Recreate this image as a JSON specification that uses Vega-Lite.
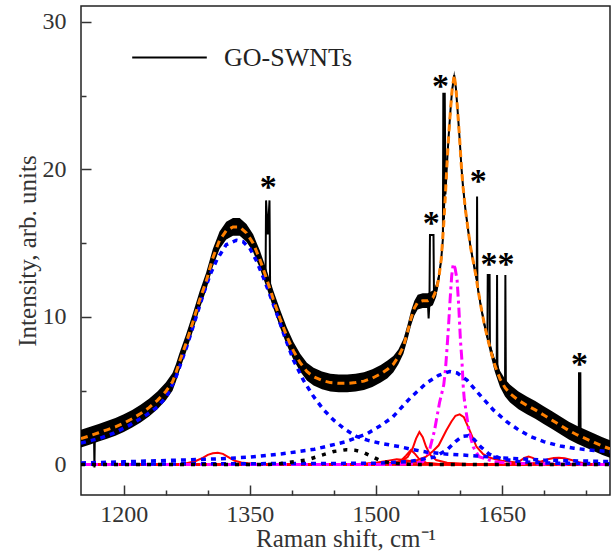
{
  "$schema": "https://vega.github.io/schema/vega-lite/v6.json",
  "width": 529,
  "height": 489,
  "autosize": {"type": "none"},
  "padding": {"left": 81, "top": 6, "right": 1, "bottom": 64},
  "background": "white",
  "config": {
    "font": "Liberation Serif",
    "view": {"stroke": "#222", "strokeWidth": 1.5},
    "axis": {"labelFont": "Liberation Serif", "titleFont": "Liberation Serif"},
    "style": {"guide-label": {"font": "Liberation Serif"}, "guide-title": {"font": "Liberation Serif"}}
  },
  "datasets": {
    "smooth": [
      {"x":1149,"m":1.75,"lo":1.15,"hi":2.35},{"x":1160,"m":1.95,"lo":1.35,"hi":2.55},{"x":1170,"m":2.15,"lo":1.55,"hi":2.75},
      {"x":1180,"m":2.35,"lo":1.75,"hi":2.95},{"x":1190,"m":2.55,"lo":1.95,"hi":3.15},{"x":1200,"m":2.8,"lo":2.2,"hi":3.4},
      {"x":1210,"m":3.1,"lo":2.5,"hi":3.7},{"x":1220,"m":3.45,"lo":2.85,"hi":4.05},{"x":1230,"m":3.85,"lo":3.25,"hi":4.45},
      {"x":1240,"m":4.35,"lo":3.75,"hi":4.95},{"x":1250,"m":4.95,"lo":4.35,"hi":5.55},{"x":1258,"m":5.6,"lo":5.0,"hi":6.2},
      {"x":1262,"m":6.2,"lo":5.6,"hi":6.8},
      {"x":1266,"m":6.9,"lo":6.3,"hi":7.5},{"x":1274,"m":8.2,"lo":7.6,"hi":8.8},{"x":1282,"m":9.6,"lo":9.0,"hi":10.2},
      {"x":1290,"m":11.1,"lo":10.5,"hi":11.7},{"x":1298,"m":12.4,"lo":11.8,"hi":13.0},{"x":1306,"m":14.0,"lo":13.4,"hi":14.6},
      {"x":1314,"m":15.2,"lo":14.6,"hi":15.8},{"x":1322,"m":15.85,"lo":15.25,"hi":16.45},{"x":1330,"m":16.1,"lo":15.5,"hi":16.7},
      {"x":1338,"m":16.1,"lo":15.5,"hi":16.7},{"x":1346,"m":15.7,"lo":15.1,"hi":16.3},{"x":1354,"m":15.0,"lo":14.4,"hi":15.6},
      {"x":1362,"m":13.9,"lo":13.3,"hi":14.5},{"x":1370,"m":12.6,"lo":12.0,"hi":13.2},{"x":1378,"m":11.2,"lo":10.6,"hi":11.8},
      {"x":1386,"m":9.9,"lo":9.3,"hi":10.5},{"x":1394,"m":8.7,"lo":8.1,"hi":9.3},{"x":1402,"m":7.7,"lo":7.1,"hi":8.3},
      {"x":1410,"m":6.9,"lo":6.3,"hi":7.5},{"x":1418,"m":6.3,"lo":5.7,"hi":6.9},{"x":1426,"m":5.95,"lo":5.35,"hi":6.55},
      {"x":1436,"m":5.7,"lo":5.1,"hi":6.3},{"x":1446,"m":5.55,"lo":4.95,"hi":6.15},{"x":1456,"m":5.5,"lo":4.9,"hi":6.1},
      {"x":1466,"m":5.5,"lo":4.9,"hi":6.1},{"x":1476,"m":5.55,"lo":4.95,"hi":6.15},{"x":1486,"m":5.65,"lo":5.05,"hi":6.25},
      {"x":1496,"m":5.85,"lo":5.25,"hi":6.45},{"x":1506,"m":6.15,"lo":5.55,"hi":6.75},{"x":1514,"m":6.45,"lo":5.85,"hi":7.05},
      {"x":1521,"m":6.8,"lo":6.25,"hi":7.35},{"x":1527,"m":7.3,"lo":6.8,"hi":7.8},{"x":1533,"m":8.0,"lo":7.5,"hi":8.5},
      {"x":1538,"m":9.0,"lo":8.5,"hi":9.5},{"x":1542,"m":9.9,"lo":9.4,"hi":10.4},{"x":1546,"m":10.6,"lo":10.1,"hi":11.1},
      {"x":1550,"m":11.0,"lo":10.5,"hi":11.5},{"x":1556,"m":11.1,"lo":10.6,"hi":11.6},{"x":1562,"m":11.1,"lo":10.6,"hi":11.6},
      {"x":1568,"m":11.3,"lo":10.8,"hi":11.8},{"x":1572,"m":11.8,"lo":11.35,"hi":12.25},{"x":1575,"m":12.6,"lo":12.2,"hi":13.0},
      {"x":1578,"m":13.9,"lo":13.6,"hi":14.2},{"x":1581,"m":16.3,"lo":16.0,"hi":16.6},{"x":1583,"m":18.3,"lo":18.0,"hi":18.6},
      {"x":1585,"m":20.5,"lo":20.2,"hi":20.8},{"x":1587,"m":22.4,"lo":22.1,"hi":22.7},{"x":1589,"m":24.0,"lo":23.7,"hi":24.3},
      {"x":1591,"m":25.4,"lo":25.1,"hi":25.7},{"x":1593.5,"m":26.4,"lo":26.1,"hi":26.7},{"x":1595.5,"m":25.5,"lo":25.2,"hi":25.8},
      {"x":1597.5,"m":24.0,"lo":23.7,"hi":24.3},{"x":1600,"m":22.0,"lo":21.7,"hi":22.3},{"x":1602,"m":20.2,"lo":19.9,"hi":20.5},
      {"x":1604,"m":18.8,"lo":18.5,"hi":19.1},{"x":1607,"m":17.2,"lo":16.9,"hi":17.5},{"x":1610,"m":15.9,"lo":15.6,"hi":16.2},
      {"x":1613,"m":14.7,"lo":14.4,"hi":15.0},{"x":1616,"m":13.8,"lo":13.5,"hi":14.1},{"x":1619,"m":12.9,"lo":12.6,"hi":13.2},
      {"x":1622,"m":11.8,"lo":11.5,"hi":12.1},{"x":1625,"m":10.8,"lo":10.5,"hi":11.1},{"x":1629,"m":9.6,"lo":9.3,"hi":9.9},
      {"x":1633,"m":8.6,"lo":8.3,"hi":8.9},{"x":1637,"m":7.7,"lo":7.35,"hi":8.05},{"x":1642,"m":6.7,"lo":6.25,"hi":7.15},
      {"x":1648,"m":5.8,"lo":5.25,"hi":6.35},{"x":1654,"m":5.2,"lo":4.6,"hi":5.8},{"x":1660,"m":4.8,"lo":4.2,"hi":5.4},
      {"x":1670,"m":4.35,"lo":3.75,"hi":4.95},{"x":1680,"m":4.0,"lo":3.4,"hi":4.6},{"x":1690,"m":3.7,"lo":3.1,"hi":4.3},
      {"x":1700,"m":3.35,"lo":2.75,"hi":3.95},{"x":1710,"m":3.0,"lo":2.4,"hi":3.6},{"x":1720,"m":2.65,"lo":2.05,"hi":3.25},
      {"x":1730,"m":2.3,"lo":1.7,"hi":2.9},{"x":1740,"m":2.0,"lo":1.4,"hi":2.6},{"x":1750,"m":1.75,"lo":1.15,"hi":2.35},
      {"x":1760,"m":1.5,"lo":0.9,"hi":2.1},{"x":1770,"m":1.25,"lo":0.65,"hi":1.85},{"x":1779,"m":1.05,"lo":0.45,"hi":1.65}
    ],
    "raw": [
      {"x":1149,"y":1.75},{"x":1160,"y":1.95},{"x":1164.5,"y":2.0},{"x":1165,"y":-0.2},{"x":1165.5,"y":2.05},
      {"x":1170,"y":2.15},{"x":1180,"y":2.35},{"x":1190,"y":2.55},{"x":1200,"y":2.8},{"x":1210,"y":3.1},
      {"x":1220,"y":3.45},{"x":1230,"y":3.85},{"x":1240,"y":4.35},{"x":1250,"y":4.95},{"x":1258,"y":5.6},{"x":1262,"y":6.2},
      {"x":1266,"y":6.9},{"x":1274,"y":8.2},{"x":1282,"y":9.6},{"x":1290,"y":11.1},{"x":1298,"y":12.4},
      {"x":1306,"y":14.0},{"x":1314,"y":15.2},{"x":1322,"y":15.85},{"x":1330,"y":16.1},{"x":1338,"y":16.1},
      {"x":1346,"y":15.7},{"x":1354,"y":15.0},{"x":1362,"y":13.9},{"x":1368.8,"y":12.8},{"x":1369.4,"y":17.9},
      {"x":1371.4,"y":15.6},{"x":1373.5,"y":17.9},{"x":1374.2,"y":12.2},{"x":1378,"y":11.2},{"x":1386,"y":9.9},
      {"x":1394,"y":8.7},{"x":1402,"y":7.7},{"x":1410,"y":6.9},{"x":1418,"y":6.3},{"x":1426,"y":5.95},
      {"x":1436,"y":5.7},{"x":1446,"y":5.55},{"x":1456,"y":5.5},{"x":1466,"y":5.5},{"x":1476,"y":5.55},
      {"x":1486,"y":5.65},{"x":1496,"y":5.85},{"x":1506,"y":6.15},{"x":1514,"y":6.45},{"x":1521,"y":6.8},
      {"x":1527,"y":7.3},{"x":1533,"y":8.0},{"x":1538,"y":9.0},{"x":1542,"y":9.9},{"x":1546,"y":10.6},
      {"x":1550,"y":11.0},{"x":1556,"y":11.1},{"x":1562,"y":11.1},{"x":1563,"y":9.9},{"x":1564,"y":11.0},
      {"x":1564.6,"y":15.56},{"x":1568.8,"y":15.56},{"x":1569.4,"y":11.3},{"x":1572,"y":11.8},{"x":1575,"y":12.6},
      {"x":1578,"y":13.9},{"x":1580,"y":15.3},{"x":1580.5,"y":25.2},{"x":1581.3,"y":16.6},{"x":1582.2,"y":25.2},
      {"x":1583,"y":18.3},{"x":1585,"y":20.5},{"x":1587,"y":22.4},{"x":1589,"y":24.0},{"x":1591,"y":25.4},
      {"x":1593.5,"y":26.4},{"x":1595.5,"y":25.5},{"x":1597.5,"y":24.0},{"x":1600,"y":22.0},{"x":1602,"y":20.2},
      {"x":1604,"y":18.8},{"x":1607,"y":17.2},{"x":1610,"y":15.9},{"x":1613,"y":14.7},{"x":1616,"y":13.8},
      {"x":1619,"y":12.9},{"x":1620.3,"y":12.5},{"x":1620.7,"y":18.16},{"x":1621.1,"y":12.3},{"x":1622,"y":11.8},
      {"x":1625,"y":10.8},{"x":1629,"y":9.6},{"x":1633,"y":8.6},{"x":1633.4,"y":12.85},{"x":1635.6,"y":12.85},
      {"x":1636,"y":8.1},{"x":1640,"y":7.2},{"x":1644.1,"y":6.9},{"x":1644.5,"y":12.85},{"x":1644.9,"y":6.8},
      {"x":1648,"y":5.8},{"x":1654,"y":5.2},{"x":1654.4,"y":12.85},{"x":1655,"y":5.1},{"x":1660,"y":4.8},
      {"x":1670,"y":4.35},{"x":1680,"y":4.0},{"x":1690,"y":3.7},{"x":1700,"y":3.35},{"x":1710,"y":3.0},
      {"x":1720,"y":2.65},{"x":1730,"y":2.3},{"x":1740,"y":2.0},{"x":1741.8,"y":1.95},{"x":1742.1,"y":6.18},
      {"x":1743.7,"y":6.18},{"x":1744,"y":1.9},{"x":1750,"y":1.75},{"x":1760,"y":1.5},{"x":1770,"y":1.25},
      {"x":1779,"y":1.05}
    ],
    "blue": [
      {"p":"D","x":1149,"y":1.45},{"p":"D","x":1170,"y":1.75},{"p":"D","x":1187,"y":2.1},{"p":"D","x":1205,"y":2.6},
      {"p":"D","x":1227,"y":3.36},{"p":"D","x":1240,"y":3.9},{"p":"D","x":1251,"y":4.6},{"p":"D","x":1262,"y":5.9},
      {"p":"D","x":1275,"y":8.0},{"p":"D","x":1285,"y":9.8},{"p":"D","x":1295,"y":11.6},{"p":"D","x":1303,"y":12.9},
      {"p":"D","x":1311,"y":13.9},{"p":"D","x":1322,"y":14.9},{"p":"D","x":1334,"y":15.2},{"p":"D","x":1342,"y":15.1},
      {"p":"D","x":1350,"y":14.66},{"p":"D","x":1358,"y":13.8},{"p":"D","x":1366,"y":12.7},{"p":"D","x":1374,"y":11.5},
      {"p":"D","x":1382,"y":10.25},{"p":"D","x":1392,"y":8.6},{"p":"D","x":1402,"y":7.08},{"p":"D","x":1414,"y":5.7},
      {"p":"D","x":1426,"y":4.6},{"p":"D","x":1438,"y":3.7},{"p":"D","x":1450,"y":3.0},{"p":"D","x":1463,"y":2.4},
      {"p":"D","x":1477,"y":1.9},{"p":"D","x":1490,"y":1.65},{"p":"D","x":1505,"y":1.44},{"p":"D","x":1529,"y":1.2},
      {"p":"D","x":1545,"y":1.0},{"p":"D","x":1560,"y":0.85},{"p":"D","x":1580,"y":0.72},{"p":"D","x":1600,"y":0.65},
      {"p":"D","x":1620,"y":0.58},{"p":"D","x":1650,"y":0.45},{"p":"D","x":1700,"y":0.3},{"p":"D","x":1740,"y":0.24},
      {"p":"D","x":1779,"y":0.2},
      {"p":"G","x":1149,"y":0.1},{"p":"G","x":1200,"y":0.18},{"p":"G","x":1268,"y":0.3},{"p":"G","x":1308,"y":0.37},
      {"p":"G","x":1348,"y":0.49},{"p":"G","x":1387,"y":0.71},{"p":"G","x":1427,"y":1.03},{"p":"G","x":1465,"y":1.55},
      {"p":"G","x":1490,"y":2.1},{"p":"G","x":1505,"y":2.6},{"p":"G","x":1520,"y":3.2},{"p":"G","x":1541,"y":4.5},
      {"p":"G","x":1560,"y":5.5},{"p":"G","x":1575,"y":6.05},{"p":"G","x":1588,"y":6.3},{"p":"G","x":1597,"y":6.2},
      {"p":"G","x":1609,"y":5.7},{"p":"G","x":1621,"y":4.9},{"p":"G","x":1629,"y":4.4},{"p":"G","x":1640,"y":3.7},
      {"p":"G","x":1656,"y":2.9},{"p":"G","x":1670,"y":2.35},{"p":"G","x":1684,"y":1.9},{"p":"G","x":1700,"y":1.55},
      {"p":"G","x":1720,"y":1.25},{"p":"G","x":1736,"y":1.1},{"p":"G","x":1760,"y":0.95},{"p":"G","x":1779,"y":0.87},
      {"p":"S","x":1149,"y":0.02},{"p":"S","x":1500,"y":0.08},{"p":"S","x":1540,"y":0.2},{"p":"S","x":1570,"y":0.5},
      {"p":"S","x":1585,"y":1.0},{"p":"S","x":1595,"y":1.55},{"p":"S","x":1603,"y":1.9},{"p":"S","x":1610,"y":1.95},
      {"p":"S","x":1617,"y":1.7},{"p":"S","x":1625,"y":1.2},{"p":"S","x":1635,"y":0.7},{"p":"S","x":1650,"y":0.38},
      {"p":"S","x":1670,"y":0.2},{"p":"S","x":1700,"y":0.1},{"p":"S","x":1779,"y":0.04}
    ],
    "blackdot": [
      {"x":1149,"y":0},{"x":1370,"y":0},{"x":1385,"y":0.05},{"x":1403,"y":0.19},{"x":1419,"y":0.32},
      {"x":1435,"y":0.62},{"x":1450,"y":0.88},{"x":1465,"y":1.0},{"x":1475,"y":0.97},{"x":1485,"y":0.82},
      {"x":1495,"y":0.55},{"x":1504,"y":0.3},{"x":1514,"y":0.14},{"x":1524,"y":0.06},{"x":1540,"y":0.01},
      {"x":1560,"y":0},{"x":1779,"y":0}
    ],
    "red": [
      {"p":"R1","x":1149,"y":0},{"p":"R1","x":1262,"y":0},{"p":"R1","x":1272,"y":0.05},{"p":"R1","x":1285,"y":0.22},
      {"p":"R1","x":1294,"y":0.45},{"p":"R1","x":1300,"y":0.65},{"p":"R1","x":1306,"y":0.76},{"p":"R1","x":1312,"y":0.8},
      {"p":"R1","x":1318,"y":0.72},{"p":"R1","x":1325,"y":0.48},{"p":"R1","x":1332,"y":0.25},{"p":"R1","x":1340,"y":0.13},
      {"p":"R1","x":1348,"y":0.08},{"p":"R1","x":1360,"y":0.03},{"p":"R1","x":1380,"y":0},{"p":"R1","x":1779,"y":0},
      {"p":"R4","x":1149,"y":0},{"p":"R4","x":1460,"y":0},{"p":"R4","x":1480,"y":0.04},{"p":"R4","x":1500,"y":0.12},
      {"p":"R4","x":1515,"y":0.26},{"p":"R4","x":1525,"y":0.35},{"p":"R4","x":1534,"y":0.3},{"p":"R4","x":1545,"y":0.18},
      {"p":"R4","x":1560,"y":0.07},{"p":"R4","x":1580,"y":0.02},{"p":"R4","x":1600,"y":0},{"p":"R4","x":1779,"y":0},
      {"p":"R3","x":1149,"y":0},{"p":"R3","x":1505,"y":0},{"p":"R3","x":1520,"y":0.06},{"p":"R3","x":1530,"y":0.25},
      {"p":"R3","x":1536,"y":0.6},{"p":"R3","x":1542,"y":0.98},{"p":"R3","x":1547,"y":0.7},{"p":"R3","x":1552,"y":0.35},
      {"p":"R3","x":1560,"y":0.12},{"p":"R3","x":1575,"y":0.04},{"p":"R3","x":1590,"y":0},{"p":"R3","x":1779,"y":0},
      {"p":"R2","x":1149,"y":0},{"p":"R2","x":1500,"y":0},{"p":"R2","x":1520,"y":0.1},{"p":"R2","x":1530,"y":0.22},
      {"p":"R2","x":1538,"y":0.5},{"p":"R2","x":1544,"y":1.1},{"p":"R2","x":1548,"y":1.75},{"p":"R2","x":1552,"y":2.2},
      {"p":"R2","x":1556,"y":1.85},{"p":"R2","x":1560,"y":1.2},{"p":"R2","x":1565,"y":0.65},{"p":"R2","x":1572,"y":0.3},
      {"p":"R2","x":1585,"y":0.12},{"p":"R2","x":1610,"y":0.04},{"p":"R2","x":1640,"y":0},{"p":"R2","x":1779,"y":0},
      {"p":"R5","x":1149,"y":0},{"p":"R5","x":1480,"y":0},{"p":"R5","x":1510,"y":0.05},{"p":"R5","x":1530,"y":0.1},
      {"p":"R5","x":1550,"y":0.3},{"p":"R5","x":1560,"y":0.53},{"p":"R5","x":1568,"y":0.9},{"p":"R5","x":1575,"y":1.3},
      {"p":"R5","x":1584,"y":2.3},{"p":"R5","x":1590,"y":2.9},{"p":"R5","x":1595,"y":3.3},{"p":"R5","x":1600,"y":3.4},
      {"p":"R5","x":1605,"y":3.2},{"p":"R5","x":1612,"y":2.3},{"p":"R5","x":1620,"y":1.2},{"p":"R5","x":1628,"y":0.7},
      {"p":"R5","x":1636,"y":0.45},{"p":"R5","x":1650,"y":0.25},{"p":"R5","x":1670,"y":0.12},{"p":"R5","x":1700,"y":0.05},
      {"p":"R5","x":1730,"y":0.02},{"p":"R5","x":1779,"y":0},
      {"p":"R6","x":1149,"y":0},{"p":"R6","x":1655,"y":0},{"p":"R6","x":1665,"y":0.08},{"p":"R6","x":1672,"y":0.25},
      {"p":"R6","x":1677,"y":0.45},{"p":"R6","x":1682,"y":0.53},{"p":"R6","x":1687,"y":0.45},{"p":"R6","x":1692,"y":0.25},
      {"p":"R6","x":1700,"y":0.08},{"p":"R6","x":1712,"y":0.02},{"p":"R6","x":1725,"y":0},{"p":"R6","x":1779,"y":0},
      {"p":"R7","x":1149,"y":0},{"p":"R7","x":1680,"y":0},{"p":"R7","x":1690,"y":0.08},{"p":"R7","x":1698,"y":0.22},
      {"p":"R7","x":1705,"y":0.35},{"p":"R7","x":1712,"y":0.44},{"p":"R7","x":1718,"y":0.46},{"p":"R7","x":1725,"y":0.42},
      {"p":"R7","x":1733,"y":0.3},{"p":"R7","x":1742,"y":0.15},{"p":"R7","x":1752,"y":0.05},{"p":"R7","x":1765,"y":0.01},
      {"p":"R7","x":1779,"y":0}
    ],
    "magenta": [
      {"x":1149,"y":0},{"x":1520,"y":0},{"x":1545,"y":0.05},{"x":1556,"y":0.19},{"x":1564,"y":0.98},
      {"x":1570,"y":2.3},{"x":1576,"y":4.2},{"x":1579,"y":4.9},{"x":1581,"y":5.4},{"x":1583,"y":6.4},
      {"x":1584.7,"y":7.7},{"x":1586.6,"y":9.3},{"x":1588.6,"y":11.2},{"x":1590.5,"y":12.8},{"x":1592.3,"y":13.6},
      {"x":1594.5,"y":13.3},{"x":1596.9,"y":12.5},{"x":1598.9,"y":10.7},{"x":1600.9,"y":8.4},{"x":1602.6,"y":7.1},
      {"x":1604.2,"y":5.3},{"x":1605.5,"y":4.4},{"x":1611,"y":2.3},{"x":1616,"y":1.2},{"x":1623,"y":0.53},
      {"x":1641,"y":0.19},{"x":1660,"y":0.08},{"x":1700,"y":0.03},{"x":1779,"y":0}
    ],
    "stars": [
      {"x":1371.9,"y":19.3,"t":"*"},{"x":1566.2,"y":16.85,"t":"*"},{"x":1577,"y":26.1,"t":"*"},
      {"x":1622.2,"y":19.7,"t":"*"},{"x":1644.9,"y":14.07,"t":"**"},{"x":1742.6,"y":7.3,"t":"*"}
    ]
  },
  "layer": [
    {
      "data": {"name": "smooth"},
      "mark": {"type": "area", "color": "black", "clip": true},
      "encoding": {
        "x": {"field": "x", "type": "quantitative", "scale": {"domain": [1149, 1779], "nice": false, "zero": false},
              "axis": {"orient": "bottom", "values": [1200, 1350, 1500, 1650], "format": "d", "offset": -10, "tickSize": 10, "tickColor": "#333", "tickWidth": 1.5,
                       "domain": false, "grid": false, "labelPadding": 7, "labelFont": "Liberation Serif", "labelFontSize": 24, "labelColor": "#333",
                       "title": "Raman shift, cm⁻¹", "titleFont": "Liberation Serif", "titleFontSize": 25, "titleFontWeight": "normal", "titleColor": "#333", "titlePadding": 0}},
        "y": {"field": "lo", "type": "quantitative", "scale": {"domain": [-2.07, 31.08], "nice": false, "zero": false},
              "axis": {"orient": "left", "values": [0, 10, 20, 30], "format": "d", "offset": -10, "tickSize": 10, "tickColor": "#333", "tickWidth": 1.5,
                       "domain": false, "grid": false, "labelPadding": 15, "labelFont": "Liberation Serif", "labelFontSize": 24, "labelColor": "#333",
                       "title": "Intensity, arb. units", "titleFont": "Liberation Serif", "titleFontSize": 25, "titleFontWeight": "normal", "titleColor": "#333", "titlePadding": 2}},
        "y2": {"field": "hi"}
      }
    },
    {
      "data": {"name": "raw"},
      "mark": {"type": "line", "strokeWidth": 2, "clip": true},
      "encoding": {
        "x": {"field": "x", "type": "quantitative", "scale": {"domain": [1149, 1779], "nice": false, "zero": false},
              "axis": {"orient": "bottom", "values": [1250, 1300, 1400, 1450, 1550, 1600, 1700, 1750], "offset": -5, "tickSize": 5, "tickColor": "#333", "tickWidth": 1.5,
                       "domain": false, "grid": false, "labels": false, "title": null}},
        "y": {"field": "y", "type": "quantitative", "scale": {"domain": [-2.07, 31.08], "nice": false, "zero": false},
              "axis": {"orient": "left", "values": [5, 15, 25], "offset": -5, "tickSize": 5, "tickColor": "#333", "tickWidth": 1.5,
                       "domain": false, "grid": false, "labels": false, "title": null}},
        "color": {"datum": "GO-SWNTs", "type": "nominal", "scale": {"range": ["black"]},
                  "legend": {"orient": "none", "legendX": 50, "legendY": 13, "title": null, "padding": 0,
                             "symbolType": "stroke", "symbolSize": 5565, "symbolStrokeWidth": 2, "symbolStrokeColor": "black",
                             "labelFont": "Liberation Serif", "labelFontSize": 26, "labelColor": "#222", "labelOffset": 16}}
      }
    },
    {
      "data": {"name": "red"},
      "mark": {"type": "line", "color": "#FF0000", "strokeWidth": 2, "clip": true},
      "encoding": {
        "x": {"field": "x", "type": "quantitative", "scale": {"domain": [1149, 1779], "nice": false, "zero": false}, "axis": null},
        "y": {"field": "y", "type": "quantitative", "scale": {"domain": [-2.07, 31.08], "nice": false, "zero": false}, "axis": null},
        "detail": {"field": "p", "type": "nominal"}
      }
    },
    {
      "data": {"name": "magenta"},
      "mark": {"type": "line", "color": "#FF00FF", "strokeWidth": 3, "strokeDash": [10, 4, 3, 4], "clip": true},
      "encoding": {
        "x": {"field": "x", "type": "quantitative", "scale": {"domain": [1149, 1779], "nice": false, "zero": false}, "axis": null},
        "y": {"field": "y", "type": "quantitative", "scale": {"domain": [-2.07, 31.08], "nice": false, "zero": false}, "axis": null}
      }
    },
    {
      "data": {"name": "blue"},
      "mark": {"type": "line", "color": "#0000FF", "strokeWidth": 3.5, "strokeDash": [5, 5], "clip": true},
      "encoding": {
        "x": {"field": "x", "type": "quantitative", "scale": {"domain": [1149, 1779], "nice": false, "zero": false}, "axis": null},
        "y": {"field": "y", "type": "quantitative", "scale": {"domain": [-2.07, 31.08], "nice": false, "zero": false}, "axis": null},
        "detail": {"field": "p", "type": "nominal"}
      }
    },
    {
      "data": {"name": "blackdot"},
      "mark": {"type": "line", "color": "black", "strokeWidth": 3.5, "strokeDash": [4, 7], "clip": true},
      "encoding": {
        "x": {"field": "x", "type": "quantitative", "scale": {"domain": [1149, 1779], "nice": false, "zero": false}, "axis": null},
        "y": {"field": "y", "type": "quantitative", "scale": {"domain": [-2.07, 31.08], "nice": false, "zero": false}, "axis": null}
      }
    },
    {
      "data": {"name": "smooth"},
      "mark": {"type": "line", "color": "#FF8000", "strokeWidth": 3, "strokeDash": [7, 5], "clip": true},
      "encoding": {
        "x": {"field": "x", "type": "quantitative", "scale": {"domain": [1149, 1779], "nice": false, "zero": false}, "axis": null},
        "y": {"field": "m", "type": "quantitative", "scale": {"domain": [-2.07, 31.08], "nice": false, "zero": false}, "axis": null}
      }
    },
    {
      "data": {"name": "stars"},
      "mark": {"type": "text", "font": "Liberation Serif", "fontWeight": "bold", "fontSize": 34, "color": "black", "baseline": "alphabetic", "align": "center", "dy": 18},
      "encoding": {
        "x": {"field": "x", "type": "quantitative", "scale": {"domain": [1149, 1779], "nice": false, "zero": false}, "axis": null},
        "y": {"field": "y", "type": "quantitative", "scale": {"domain": [-2.07, 31.08], "nice": false, "zero": false}, "axis": null},
        "text": {"field": "t"}
      }
    }
  ],
  "resolve": {"axis": {"x": "independent", "y": "independent"}}
}
